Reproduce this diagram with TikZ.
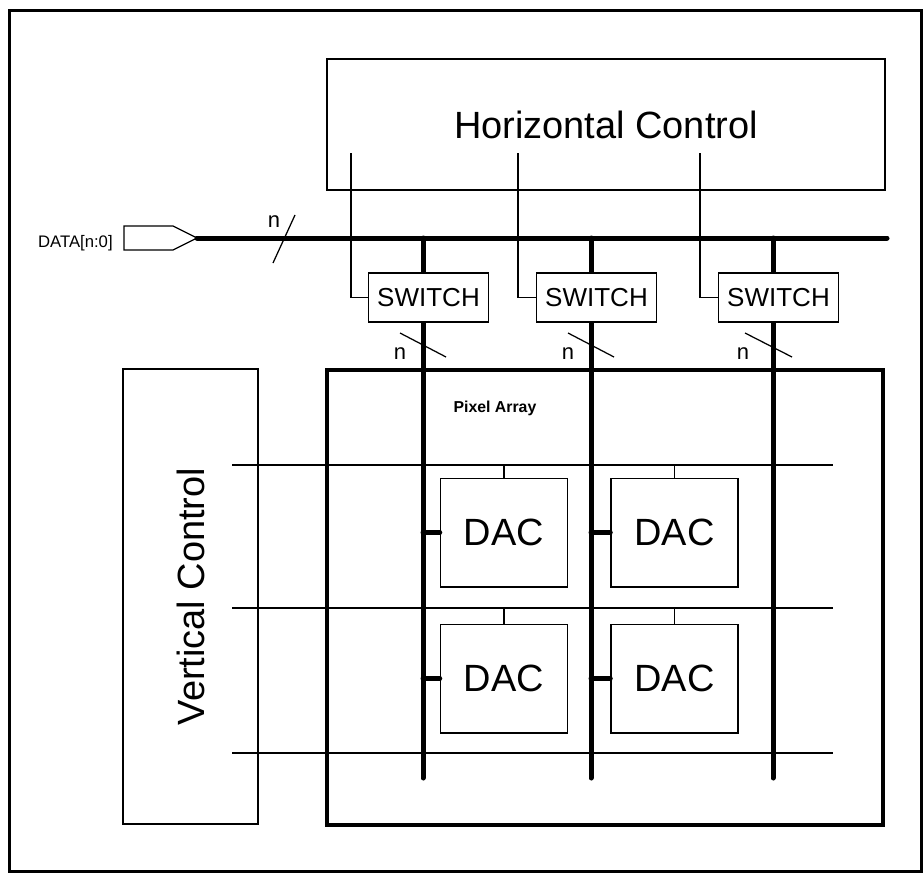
\documentclass[tikz,border=0pt]{standalone}
\usepackage{fontspec}
\setmainfont{Liberation Sans}
\setsansfont{Liberation Sans}
\usetikzlibrary{positioning}

\begin{document}
\begin{tikzpicture}[x=0.2mm, y=-0.2mm, font=\sffamily,
  box/.style={draw, line width=0.3mm, fill=white, inner sep=0pt},
  ctl/.style={box, font=\sffamily\fontsize{21.6}{24}\selectfont},
  sw/.style={box, minimum width=24mm, minimum height=9.8mm, font=\sffamily\fontsize{14.8}{17}\selectfont},
  dac/.style={box, minimum width=25.4mm, minimum height=21.7mm, font=\sffamily\fontsize{21.6}{24}\selectfont},
  wire/.style={line width=0.25mm},
  bus/.style={line width=1mm, line cap=round},
  lbl/.style={inner sep=0pt, font=\sffamily\fontsize{12.5}{14}\selectfont}]

\useasboundingbox (0,0) rectangle (924,873);
\draw[line width=0.6mm] (9,11) rectangle (921,871);

\node[ctl, minimum width=111.6mm, minimum height=26.2mm] (hctrl) at (606,124.5) {Horizontal Control};
\node[ctl, rotate=90, minimum width=91mm, minimum height=27mm] (vctrl) at (190.5,596.5) {Vertical Control};
\node[draw, line width=0.7mm, inner sep=0pt, minimum width=111.2mm, minimum height=91mm] (pa) at (605,597.5) {};
\node[anchor=base, inner sep=0pt, font=\sffamily\bfseries\fontsize{9}{11}\selectfont] (palbl) at (495,412) {Pixel Array};

\coordinate (r1) at (232,465);
\coordinate (r2) at (232,608);
\coordinate (r3) at (232,753);
\draw[wire] (r1) -- ++(601,0);
\draw[wire] (r2) -- ++(601,0);
\draw[wire] (r3) -- ++(601,0);

% data input and bus
\draw[wire] (124,226) -- (173,226) -- (197,238) coordinate (din) -- (173,250) -- (124,250) -- cycle;
\node[anchor=base east, inner sep=0pt, font=\sffamily\fontsize{9.5}{11}\selectfont] (datalbl) at (113,247) {DATA[n:0]};
\coordinate (busend) at (887,238);
\draw[bus] (din) -- (busend);
\draw[wire] (273,263) -- (295,215);
\node[lbl] (n0) at (274,222) {n};

\coordinate (b1) at (423,238);
\coordinate (b2) at (591,238);
\coordinate (b3) at (773,238);
\draw[bus] (b1) -- (423,778);
\draw[bus] (b2) -- (591,778);
\draw[bus] (b3) -- (773,778);

\node[sw] (sw1) at (428.5,297.5) {SWITCH};
\node[sw] (sw2) at (596.5,297.5) {SWITCH};
\node[sw] (sw3) at (778.5,297.5) {SWITCH};

\coordinate (h1) at (351,153);
\coordinate (h2) at (518,153);
\coordinate (h3) at (700,153);
\draw[wire] (h1) |- (sw1.west);
\draw[wire] (h2) |- (sw2.west);
\draw[wire] (h3) |- (sw3.west);

\draw[wire] (400,333) -- (446,357);
\draw[wire] (568,333) -- (614,357);
\draw[wire] (745,333) -- (792,357);
\node[lbl] (n1) at (400,354) {n};
\node[lbl] (n2) at (568,354) {n};
\node[lbl] (n3) at (743,354) {n};

\node[dac] (dac1) at (504,532.5) {DAC};
\node[dac, right=8.4mm of dac1] (dac2) {DAC};
\node[dac, below=7.2mm of dac1] (dac3) {DAC};
\node[dac, right=8.4mm of dac3] (dac4) {DAC};

\draw[wire] (dac1.north) -- (dac1.north |- r1);
\draw[wire] (dac2.north) -- (dac2.north |- r1);
\draw[wire] (dac3.north) -- (dac3.north |- r2);
\draw[wire] (dac4.north) -- (dac4.north |- r2);
\draw[bus] (b1 |- dac1.west) -- (dac1.west);
\draw[bus] (b2 |- dac2.west) -- (dac2.west);
\draw[bus] (b1 |- dac3.west) -- (dac3.west);
\draw[bus] (b2 |- dac4.west) -- (dac4.west);
\end{tikzpicture}
\end{document}
